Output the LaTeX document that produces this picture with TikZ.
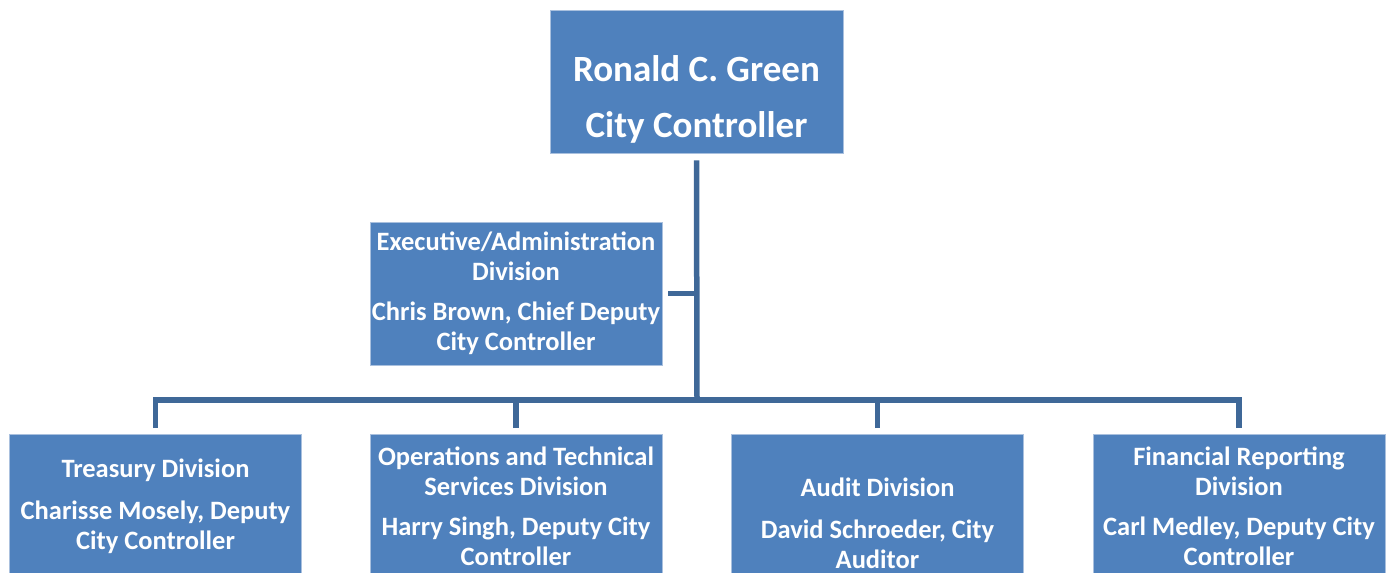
\documentclass[tikz,border=0pt]{standalone}
\usepackage{fontspec}
\setmainfont{Carlito}
\usepackage{xcolor}
\usepackage{tikz}
\definecolor{boxblue}{HTML}{4F81BD}
\definecolor{rimblue}{HTML}{A9C0DE}
\definecolor{linkblue}{HTML}{3F6898}
\tikzstyle{unit} = [rectangle, draw=rimblue, line width=0.8pt, fill=boxblue, text=white,
                    font=\bfseries\fontsize{26.5}{30}\selectfont, align=center,
                    minimum width=292pt, minimum height=143pt, inner sep=0pt]
\tikzstyle{head} = [unit, minimum width=293pt, font=\bfseries\fontsize{37}{56}\selectfont]
\tikzstyle{link} = [line width=5.5pt, draw=linkblue]

\begin{document}
\begin{tikzpicture}[x=1pt,y=-1pt]
        \useasboundingbox (0,0) rectangle (1390,573);

        \node[head] (controller) at (696.5,81.5) {\rule{0pt}{62pt}Ronald C. Green\\City Controller};
        \node[unit] (exec) at (516,293.5) {Executive/Administration\\Division\\[10pt]Chris Brown, Chief Deputy\\City Controller};

        \node[unit, anchor=north] (treasury) at (155.5,434) {Treasury Division\\[12pt]Charisse Mosely, Deputy\\City Controller};
        \node[unit, anchor=north] (ops) at (516,434) {Operations and Technical\\Services Division\\[10pt]Harry Singh, Deputy City\\Controller};
        \node[unit, anchor=north] (audit) at (877.5,434) {\rule{0pt}{54pt}Audit Division\\[12pt]David Schroeder, City\\Auditor};
        \node[unit, anchor=north] (finance) at (1239,434) {Financial Reporting\\Division\\[10pt]Carl Medley, Deputy City\\Controller};

        \coordinate (bus) at (697,400);

        \draw[link] ([yshift=-7pt]controller.south) -- (bus);
        \draw[link] ([xshift=6pt]exec.east) -- (exec.east -| bus);
        \foreach \d in {treasury,ops,audit,finance}
            \draw[link] ([yshift=6pt]\d.north) |- (bus);
    \end{tikzpicture}
\end{document}
